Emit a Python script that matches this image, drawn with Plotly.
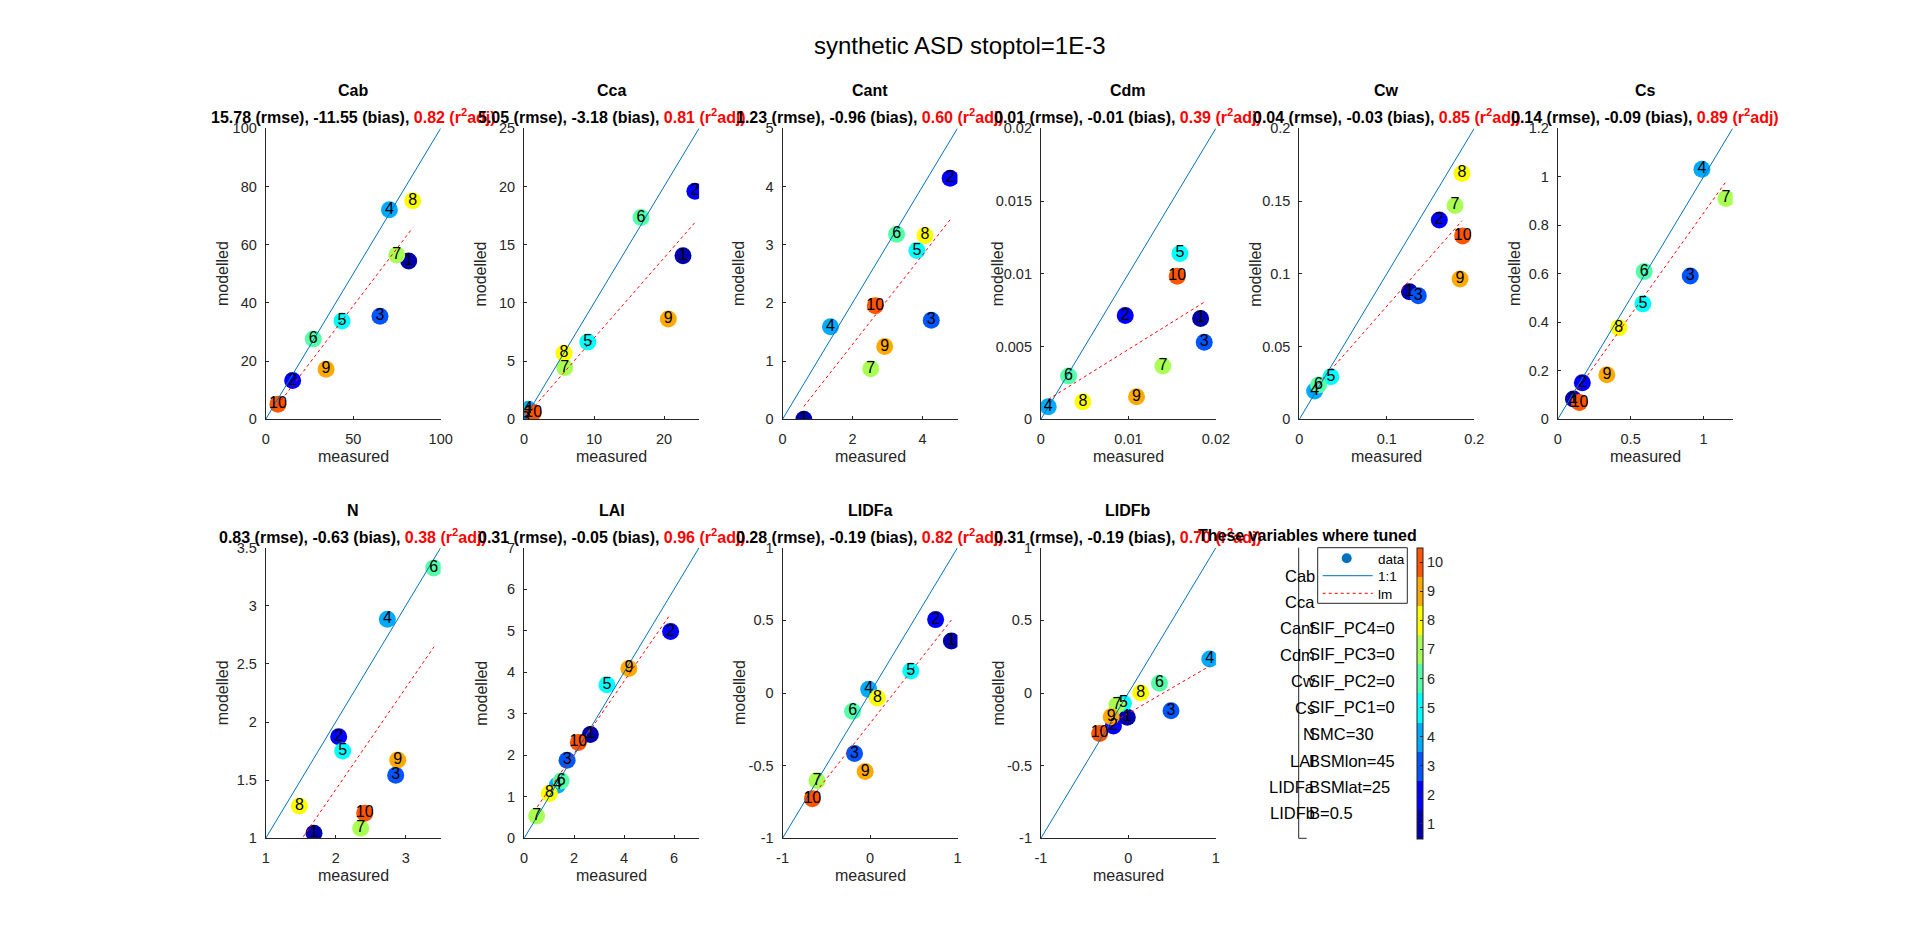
import plotly.graph_objects as go

W, H = 1920, 936
FONT = "Liberation Sans"
INK = "#262626"

ids = [1, 2, 3, 4, 5, 6, 7, 8, 9, 10]
jet10 = ["#0000AA", "#0000FF", "#0055FF", "#00AAFF", "#00FFFF",
         "#55FFAA", "#AAFF55", "#FFFF00", "#FFAA00", "#FF5500"]

names = ["Cab", "Cca", "Cant", "Cdm", "Cw", "Cs", "N", "LAI", "LIDFa", "LIDFb"]

# measured / modelled values per variable (point ids 1..10)
meas_Cab = [81.7, 15.4, 65.3, 70.7, 43.6, 27.2, 74.9, 84.0, 34.5, 7.0]
mod_Cab = [54.4, 13.3, 35.4, 72.0, 33.8, 27.6, 56.5, 75.1, 17.2, 5.2]
meas_Cca = [22.7, 24.4, 0.2, 0.6, 9.1, 16.7, 5.8, 5.7, 20.6, 1.3]
mod_Cca = [14.06, 19.6, 0.0, 0.86, 6.64, 17.33, 4.44, 5.67, 8.62, 0.57]
meas_Cant = [0.61, 4.79, 4.25, 1.37, 3.84, 3.26, 2.52, 4.07, 2.92, 2.65]
mod_Cant = [0.0, 4.14, 1.70, 1.59, 2.90, 3.18, 0.87, 3.16, 1.25, 1.95]
meas_Cdm = [0.01825, 0.00964, 0.01867, 0.00084, 0.01589, 0.00316, 0.01394, 0.0048, 0.01093, 0.01558]
mod_Cdm = [0.00693, 0.00713, 0.0053, 0.00087, 0.0114, 0.00297, 0.00366, 0.00121, 0.00155, 0.00983]
meas_Cw = [0.1259, 0.160, 0.136, 0.0175, 0.0361, 0.022, 0.178, 0.186, 0.1837, 0.1867]
mod_Cw = [0.0877, 0.137, 0.085, 0.0195, 0.0293, 0.0236, 0.147, 0.169, 0.0964, 0.126]
meas_Cs = [0.108, 0.169, 0.909, 0.989, 0.584, 0.593, 1.154, 0.419, 0.337, 0.149]
mod_Cs = [0.084, 0.151, 0.591, 1.031, 0.476, 0.609, 0.911, 0.378, 0.184, 0.069]
meas_N = [1.69, 2.043, 2.857, 2.738, 2.10, 3.40, 2.357, 1.481, 2.886, 2.414]
mod_N = [1.043, 1.874, 1.542, 2.884, 1.751, 3.325, 1.086, 1.278, 1.674, 1.215]
meas_LAI = [2.65, 5.86, 1.72, 1.33, 3.31, 1.48, 0.50, 1.01, 4.19, 2.17]
mod_LAI = [2.50, 4.98, 1.88, 1.28, 3.70, 1.38, 0.54, 1.08, 4.09, 2.31]
meas_LIDFa = [0.93, 0.75, -0.177, -0.015, 0.466, -0.199, -0.606, 0.085, -0.055, -0.659]
mod_LIDFa = [0.358, 0.505, -0.417, 0.025, 0.151, -0.126, -0.603, -0.034, -0.541, -0.727]
meas_LIDFb = [-0.013, -0.171, 0.487, 0.93, -0.057, 0.355, -0.132, 0.14, -0.197, -0.329]
mod_LIDFb = [-0.167, -0.227, -0.122, 0.234, -0.071, 0.067, -0.083, 0.002, -0.163, -0.278]

# linear-model line end points
lm_x = [[7.0, 84.0], [0.4, 24.4], [0.61, 4.79], [0.00084, 0.01867], [0.0175, 0.186],
        [0.108, 1.154], [1.538, 3.405], [0.53, 5.83], [-0.659, 0.93], [-0.329, 0.93]]
lm_y = [[5.0, 65.8], [0.37, 16.9], [0.22, 3.43], [0.00137, 0.00805], [0.0213, 0.1365],
        [0.10, 0.98], [1.014, 2.648], [0.76, 5.38], [-0.713, 0.502], [-0.255, 0.186]]

rmse = ["15.78", "5.05", "1.23", "0.01", "0.04", "0.14", "0.83", "0.31", "0.28", "0.31"]
bias = ["-11.55", "-3.18", "-0.96", "-0.01", "-0.03", "-0.09", "-0.63", "-0.05", "-0.19", "-0.19"]
r2adj = ["0.82", "0.81", "0.60", "0.39", "0.85", "0.89", "0.38", "0.96", "0.82", "0.70"]

# axis limits (also used for the 1:1 line) and ticks
limits = [[0, 100], [0, 25], [0, 5], [0, 0.02], [0, 0.2], [0, 1.2], [1, 3.5], [0, 7], [-1, 1], [-1, 1]]
xticks = [[0, 50, 100], [0, 10, 20], [0, 2, 4], [0, 0.01, 0.02], [0, 0.1, 0.2], [0, 0.5, 1],
          [1, 2, 3], [0, 2, 4, 6], [-1, 0, 1], [-1, 0, 1]]
yticks = [[0, 20, 40, 60, 80, 100], [0, 5, 10, 15, 20, 25], [0, 1, 2, 3, 4, 5],
          [0, 0.005, 0.01, 0.015, 0.02], [0, 0.05, 0.1, 0.15, 0.2], [0, 0.2, 0.4, 0.6, 0.8, 1, 1.2],
          [1, 1.5, 2, 2.5, 3, 3.5], [0, 1, 2, 3, 4, 5, 6, 7], [-1, -0.5, 0, 0.5, 1], [-1, -0.5, 0, 0.5, 1]]

tuned_left = ["Cab", "Cca", "Cant", "Cdm", "Cw", "Cs", "N", "LAI", "LIDFa", "LIDFb"]
fixed_right = ["", "", "SIF_PC4=0", "SIF_PC3=0", "SIF_PC2=0", "SIF_PC1=0",
               "SMC=30", "BSMlon=45", "BSMlat=25", "B=0.5"]

meas = [meas_Cab, meas_Cca, meas_Cant, meas_Cdm, meas_Cw, meas_Cs, meas_N, meas_LAI, meas_LIDFa, meas_LIDFb]
mods = [mod_Cab, mod_Cca, mod_Cant, mod_Cdm, mod_Cw, mod_Cs, mod_N, mod_LAI, mod_LIDFa, mod_LIDFb]

colorscale = []
for i, c in enumerate(jet10):
    colorscale.append([i / 10, c])
    colorscale.append([(i + 1) / 10, c])


def fmt(v):
    return "%g" % v


# layout geometry (pixels)
AX_W = 175.0
AX_LEFT0 = 265.7
AX_STEP = 258.4
ROWS = [(128.3, 419.3), (547.7, 838.3)]


def px(x):
    return x / W


def py(y):
    return 1 - y / H


fig = go.Figure()
layout = dict(
    width=W, height=H, autosize=False,
    margin=dict(l=0, r=0, t=0, b=0, pad=0, autoexpand=False),
    paper_bgcolor="white", plot_bgcolor="white", showlegend=False,
    font=dict(family=FONT, color=INK),
)
annotations = []
shapes = []

for k, name in enumerate(names):
    row, col = divmod(k, 6)
    x0 = AX_LEFT0 + AX_STEP * col
    top, bot = ROWS[row]
    xa = "xaxis" if k == 0 else "xaxis%d" % (k + 1)
    ya = "yaxis" if k == 0 else "yaxis%d" % (k + 1)
    xr = "x" if k == 0 else "x%d" % (k + 1)
    yr = "y" if k == 0 else "y%d" % (k + 1)
    common = dict(showline=True, linecolor=INK, linewidth=1, mirror=False, ticks="inside",
                  ticklen=3, tickcolor=INK, tickwidth=1, showgrid=False, zeroline=False,
                  automargin=False, tickfont=dict(family=FONT, size=14.5, color=INK), range=limits[k])
    layout[xa] = dict(common, domain=[px(x0), px(x0 + AX_W)], anchor=yr,
                      tickvals=xticks[k], ticktext=[fmt(v) for v in xticks[k]], ticklabelstandoff=6)
    layout[ya] = dict(common, domain=[py(bot), py(top)], anchor=xr,
                      tickvals=yticks[k], ticktext=[fmt(v) for v in yticks[k]], ticklabelstandoff=5)

    marker = dict(size=17, color=ids, colorscale=colorscale, cmin=0.5, cmax=10.5, line=dict(width=0))
    if k == 0:
        marker.update(showscale=True, colorbar=dict(
            x=px(1417.3), xanchor="left", xref="container", y=py((547.7 + 838.3) / 2), yanchor="middle",
            yref="container", thickness=6, thicknessmode="pixels", len=290.6, lenmode="pixels",
            xpad=0, ypad=0, outlinewidth=1, outlinecolor=INK, tickvals=ids,
            ticks="inside", ticklen=3, tickcolor=INK,
            tickfont=dict(family=FONT, size=14.5, color=INK)))
    fig.add_trace(go.Scatter(x=meas[k], y=mods[k], mode="markers", marker=marker,
                             xaxis=xr, yaxis=yr, hoverinfo="skip"))
    fig.add_trace(go.Scatter(x=limits[k], y=limits[k], mode="lines",
                             line=dict(color="#0072BD", width=1), xaxis=xr, yaxis=yr, hoverinfo="skip"))
    fig.add_trace(go.Scatter(x=lm_x[k], y=lm_y[k], mode="lines",
                             line=dict(color="red", width=1, dash="dot"), xaxis=xr, yaxis=yr, hoverinfo="skip"))
    fig.add_trace(go.Scatter(x=meas[k], y=mods[k], mode="text", text=[str(i) for i in ids],
                             textposition="middle center",
                             textfont=dict(family=FONT, size=16, color="black"),
                             xaxis=xr, yaxis=yr, hoverinfo="skip"))

    cx = x0 + AX_W / 2
    annotations.append(dict(x=px(cx), y=py(top - 37.6), xref="paper", yref="paper",
                            text="<b>%s</b>" % name, showarrow=False, xanchor="center", yanchor="middle",
                            font=dict(family=FONT, size=16, color="black")))
    sub = ("<b>%s (rmse), %s (bias), <span style='color:red'>%s (r<sup>2</sup>adj)</span></b>"
           % (rmse[k], bias[k], r2adj[k]))
    annotations.append(dict(x=px(cx), y=py(top - 12), xref="paper", yref="paper",
                            text=sub, showarrow=False, xanchor="center", yanchor="middle",
                            font=dict(family=FONT, size=16, color="black")))
    annotations.append(dict(x=px(cx), y=py(bot + 37.5), xref="paper", yref="paper",
                            text="measured", showarrow=False, xanchor="center", yanchor="middle",
                            font=dict(family=FONT, size=16, color=INK)))
    annotations.append(dict(x=px(x0 - 43.4), y=py((top + bot) / 2), xref="paper", yref="paper",
                            text="modelled", showarrow=False, xanchor="center", yanchor="middle",
                            textangle=-90, font=dict(family=FONT, size=16, color=INK)))

# main title
annotations.append(dict(x=px(960), y=py(45), xref="paper", yref="paper", text="synthetic ASD stoptol=1E-3",
                        showarrow=False, xanchor="center", yanchor="middle",
                        font=dict(family=FONT, size=24, color="black")))

# tuned-variable panel
LX = 1298.7
top, bot = ROWS[1]
shapes.append(dict(type="line", xref="paper", yref="paper", x0=px(LX), x1=px(LX), y0=py(top), y1=py(bot),
                   line=dict(color=INK, width=1)))
shapes.append(dict(type="line", xref="paper", yref="paper", x0=px(LX), x1=px(LX + 8), y0=py(bot), y1=py(bot),
                   line=dict(color=INK, width=1)))
annotations.append(dict(x=px(1307), y=py(top - 12), xref="paper", yref="paper",
                        text="<b>These variables where tuned</b>", showarrow=False, xanchor="center",
                        yanchor="middle", font=dict(family=FONT, size=16, color="black")))
step = (bot - top) / 11
for i, (lt, rt) in enumerate(zip(tuned_left, fixed_right)):
    yy = top + step * (i + 1) + 1.5
    annotations.append(dict(x=px(1317.3), y=py(yy), xref="paper", yref="paper", text=lt, showarrow=False,
                            xanchor="right", yanchor="middle", font=dict(family=FONT, size=16.5, color="black")))
    if rt:
        annotations.append(dict(x=px(1306.7), y=py(yy), xref="paper", yref="paper", text=rt, showarrow=False,
                                xanchor="left", yanchor="middle", font=dict(family=FONT, size=16.5, color="black")))

# legend box
shapes.append(dict(type="rect", xref="paper", yref="paper", x0=px(1317.7), x1=px(1407.3),
                   y0=py(547.7), y1=py(603.3), fillcolor="white", line=dict(color=INK, width=1),
                   layer="above"))
shapes.append(dict(type="circle", xref="paper", yref="paper", x0=px(1341.7), x1=px(1351.7),
                   y0=py(553.3), y1=py(563.3), fillcolor="#0072BD", line=dict(width=0), layer="above"))
shapes.append(dict(type="line", xref="paper", yref="paper", x0=px(1322.7), x1=px(1372.7),
                   y0=py(575.7), y1=py(575.7), line=dict(color="#0072BD", width=1), layer="above"))
shapes.append(dict(type="line", xref="paper", yref="paper", x0=px(1322.7), x1=px(1372.7),
                   y0=py(593.3), y1=py(593.3), line=dict(color="red", width=1, dash="dot"), layer="above"))
for txt, yy in [("data", 559.3), ("1:1", 576.7), ("lm", 594.3)]:
    annotations.append(dict(x=px(1376), y=py(yy), xref="paper", yref="paper", text=txt, showarrow=False,
                            xanchor="left", yanchor="middle", font=dict(family=FONT, size=13.5, color="black")))

layout["annotations"] = annotations
layout["shapes"] = shapes
fig.update_layout(**layout)
fig.write_html("out.html")
